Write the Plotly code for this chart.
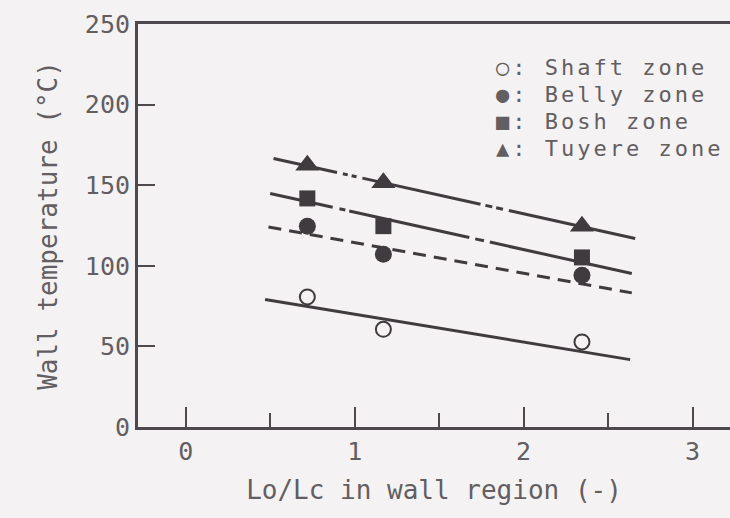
import plotly.graph_objects as go

# Lo/Lc ratio at the three measuring positions
lo_lc = [0.72, 1.17, 2.345]

# Wall temperature (°C) in each furnace zone
shaft_temp = [80.7, 60.6, 52.8]
belly_temp = [124.6, 107.2, 94.2]
bosh_temp = [141.8, 124.6, 105.2]
tuyere_temp = [162.4, 151.5, 124.6]

# End points of the fitted trend lines
shaft_fit_x = [0.47, 2.63]
shaft_fit_y = [79.1, 41.8]
belly_fit_x = [0.49, 2.64]
belly_fit_y = [124.1, 83.2]
bosh_fit_x = [0.50, 2.64]
bosh_fit_y = [144.9, 95.2]
tuyere_fit_x = [0.52, 2.66]
tuyere_fit_y = [166.6, 116.9]

x_tick_vals = [0, 1, 2, 3]
x_minor_vals = [0.5, 1.5, 2.5]
y_tick_vals = [0, 50, 100, 150, 200, 250]

legend_labels = ["○: Shaft zone", "●: Belly zone", "■: Bosh zone", "▲: Tuyere zone"]

INK = "#3f3b3e"
AXIS = "#4e494c"
TEXT = "#625e61"
BG = "#f4f2f3"
FONT = "DejaVu Sans Mono"

fig = go.Figure()

# trend lines
fig.add_trace(go.Scatter(x=shaft_fit_x, y=shaft_fit_y, mode="lines",
                         line=dict(color=INK, width=3), showlegend=False, hoverinfo="skip"))
fig.add_trace(go.Scatter(x=belly_fit_x, y=belly_fit_y, mode="lines",
                         line=dict(color=INK, width=3, dash="13px,8px"),
                         showlegend=False, hoverinfo="skip"))
fig.add_trace(go.Scatter(x=bosh_fit_x, y=bosh_fit_y, mode="lines",
                         line=dict(color=INK, width=3,
                                   dash="64px,7px,6px,4px,123px,6px,9px,6px,400px"),
                         showlegend=False, hoverinfo="skip"))
fig.add_trace(go.Scatter(x=tuyere_fit_x, y=tuyere_fit_y, mode="lines",
                         line=dict(color=INK, width=3,
                                   dash="65px,6px,5px,4px,5px,6px,121px,5px,7px,4px,7px,6px,400px"),
                         showlegend=False, hoverinfo="skip"))

# measured points
fig.add_trace(go.Scatter(x=lo_lc, y=shaft_temp, mode="markers", name="Shaft zone",
                         marker=dict(symbol="circle", size=15, color=BG,
                                     line=dict(color=INK, width=2))))
fig.add_trace(go.Scatter(x=lo_lc, y=belly_temp, mode="markers", name="Belly zone",
                         marker=dict(symbol="circle", size=17, color=INK, line=dict(width=0))))
fig.add_trace(go.Scatter(x=lo_lc, y=bosh_temp, mode="markers", name="Bosh zone",
                         marker=dict(symbol="square", size=16, color=INK, line=dict(width=0))))
fig.add_trace(go.Scatter(x=lo_lc, y=tuyere_temp, mode="markers", name="Tuyere zone",
                         marker=dict(symbol="triangle-up", size=21, color=INK, line=dict(width=0))))

# key, written as spaced-out text lines in the upper right
legend_rows_y = [0.891, 0.824, 0.757, 0.690]
for label, yy in zip(legend_labels, legend_rows_y):
    fig.add_annotation(text=f'<span style="letter-spacing:3px">{label}</span>',
                       xref="paper", yref="paper", x=0.603, y=yy,
                       xanchor="left", yanchor="middle", showarrow=False, borderpad=0,
                       font=dict(family=FONT, size=22, color=TEXT))

fig.update_layout(
    width=730, height=518,
    margin=dict(l=138, r=0, t=24, b=91),
    paper_bgcolor=BG, plot_bgcolor=BG,
    showlegend=False,
    font=dict(family=FONT, color=TEXT),
)

fig.update_xaxes(
    range=[-0.282, 3.221],
    showline=True, linecolor=AXIS, linewidth=3, mirror=True,
    showgrid=False, zeroline=False,
    tickmode="array", tickvals=x_tick_vals, ticktext=[str(v) for v in x_tick_vals],
    ticks="inside", ticklen=20, tickwidth=2, tickcolor=AXIS,
    minor=dict(tickmode="array", tickvals=x_minor_vals, ticks="inside",
               ticklen=14, tickwidth=2, tickcolor=AXIS, showgrid=False),
    tickfont=dict(family=FONT, size=25, color=TEXT),
    title=dict(text="Lo/Lc in wall region (-)", font=dict(family=FONT, size=26, color=TEXT),
               standoff=16),
)

fig.update_yaxes(
    range=[0, 250],
    showline=True, linecolor=AXIS, linewidth=3, mirror=False,
    showgrid=False, zeroline=False,
    tickmode="array", tickvals=y_tick_vals, ticktext=[str(v) for v in y_tick_vals],
    ticks="inside", ticklen=17, tickwidth=2, tickcolor=AXIS,
    tickfont=dict(family=FONT, size=25, color=TEXT),
    title=dict(text="Wall temperature (°C)", font=dict(family=FONT, size=26, color=TEXT),
               standoff=20),
)

fig.write_html("out.html")
